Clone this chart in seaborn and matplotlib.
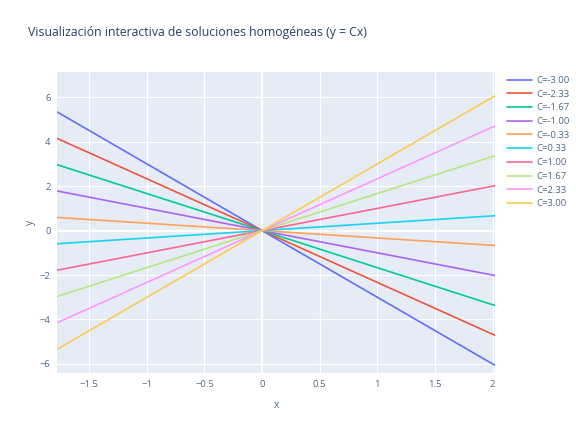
import pandas as pd
import matplotlib
matplotlib.use("Agg")
import matplotlib.pyplot as plt
import seaborn as sns

# ===== DATA =====
C_LABELS = ["C=-3.00", "C=-2.33", "C=-1.67", "C=-1.00", "C=-0.33",
            "C=0.33", "C=1.00", "C=1.67", "C=2.33", "C=3.00"]
X_POINTS = [-1.775, 0.0, 2.02]
Y_LEFT = [5.33, 4.14, 2.96, 1.78, 0.59, -0.59, -1.78, -2.96, -4.14, -5.33]
Y_MID = [0.0] * 10
Y_RIGHT = [-6.06, -4.71, -3.37, -2.02, -0.67, 0.67, 2.02, 3.37, 4.71, 6.06]

PLOTLY_COLORS = ["#636EFA", "#EF553B", "#00CC96", "#AB63FA", "#FFA15A",
                 "#19D3F3", "#FF6692", "#B6E880", "#FF97FF", "#FECB52"]

rows = []
for i, lab in enumerate(C_LABELS):
    for x, y in zip(X_POINTS, [Y_LEFT[i], Y_MID[i], Y_RIGHT[i]]):
        rows.append({"x": x, "y": y, "C": lab})
df = pd.DataFrame(rows)

# ===== STYLE =====
sns.set_theme(style="darkgrid", rc={
    "axes.facecolor": "#E5ECF6",
    "grid.color": "white",
    "grid.linewidth": 0.8,
})
plt.rcParams["font.family"] = ["Open Sans", "DejaVu Sans"]
TXT = "#2a3f5f"
TICK = "#506784"

fig = plt.figure(figsize=(5.76, 4.32), dpi=100)
ax = fig.add_axes([0.0998, 0.137, 0.7594, 0.697])

sns.lineplot(data=df, x="x", y="y", hue="C", palette=PLOTLY_COLORS,
             linewidth=1.2, ax=ax, sort=False)

ax.set_xlim(-1.775, 2.02)
ax.set_ylim(-6.4, 7.15)
ax.set_xticks([-1.5, -1, -0.5, 0, 0.5, 1, 1.5, 2])
ax.set_xticklabels(["\u22121.5", "\u22121", "\u22120.5", "0", "0.5", "1", "1.5", "2"])
ax.set_yticks([-6, -4, -2, 0, 2, 4, 6])
ax.set_yticklabels(["\u22126", "\u22124", "\u22122", "0", "2", "4", "6"])
ax.axhline(0, color="white", linewidth=1.6, zorder=1)
ax.axvline(0, color="white", linewidth=1.6, zorder=1)
ax.tick_params(axis="both", length=0, labelsize=6.8, labelcolor=TICK, pad=5)
for s in ax.spines.values():
    s.set_visible(False)

ax.set_xlabel("x", fontsize=7.5, color=TICK, labelpad=8)
ax.set_ylabel("y", fontsize=7.5, color=TICK, labelpad=3)

fig.text(0.049, 0.925, "Visualización interactiva de soluciones homogéneas (y = Cx)",
         fontsize=8.8, color=TXT, va="center", ha="left")

leg = ax.legend(loc="upper left", bbox_to_anchor=(1.015, 1.005), frameon=False,
                fontsize=6.8, handlelength=2.6, handletextpad=0.45,
                labelspacing=0.5, borderaxespad=0.2)
for t in leg.get_texts():
    t.set_color(TICK)

fig.savefig("out.png", dpi=100)
